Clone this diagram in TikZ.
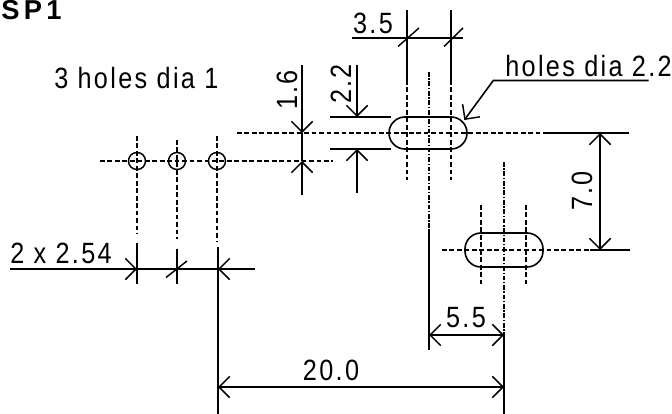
\documentclass[tikz,border=0pt]{standalone}
\usepackage{fontspec}
\setmainfont{Liberation Sans}
\usetikzlibrary{arrows.meta}
\newfontfamily\dimfont[LetterSpace=8,FakeStretch=0.86]{Liberation Sans}
\newfontfamily\titlefont[LetterSpace=16]{Liberation Sans Bold}
\tikzset{
  solidln/.style={line width=1.2pt,black},
  thinln/.style={line width=1.1pt,black},
  dashln/.style={line width=1.1pt,black,dash pattern=on 3.6pt off 2pt},
  dashdot/.style={line width=1pt,black,dash pattern=on 3.5pt off 1.3pt on 1pt off 1.3pt},
  tipb/.style={-{Straight Barb[length=8pt,width=16pt,line width=1.1pt]}},
  tipbb/.style={{Straight Barb[length=8pt,width=16pt,line width=1.1pt]}-{Straight Barb[length=8pt,width=16pt,line width=1.1pt]}},
  txt/.style={inner sep=0pt,font=\dimfont\fontsize{22}{22}\selectfont},
  outline/.style={line width=1.2pt,black,rounded corners=12pt},
  hole/.style={draw,circle,line width=1.1pt,minimum size=12.8pt,inner sep=0pt}
}
\begin{document}
\begin{tikzpicture}[x=0.75pt,y=-0.75pt]
\useasboundingbox (0,0) rectangle (672,414);
% text
\node[inner sep=0pt,font=\titlefont\fontsize{20.5}{21}\selectfont,anchor=base west] (title) at (1,20) {SP1};
\node[txt,anchor=base west] (t1) at (54,89) {3 holes dia 1};
\node[txt,anchor=base west] (t2) at (505,76) {holes dia 2.2};
\node[txt,anchor=base] (t35) at (373,33) {3.5};
\node[txt,rotate=90,anchor=base] (t16) at (297,90) {1.6};
\node[txt,rotate=90,anchor=base] (t22) at (351,84) {2.2};
\node[txt,rotate=90,anchor=base] (t70) at (592,191) {7.0};
\node[txt,anchor=base west] (t254) at (10,263) {2 x 2.54};
\node[txt,anchor=base] (t20) at (331,380) {20.0};
\node[txt,anchor=base] (t55) at (466,327) {5.5};
% holes
\node[hole] (h1) at (137,161) {};
\node[hole] (h2) at (177,161) {};
\node[hole] (h3) at (217,161) {};
% slots
\draw[outline] (389,117) rectangle (467,149);
\draw[outline] (465,233) rectangle (543,267);
% dashed
\draw[dashln] (100,161) -- (333,161);
\draw[dashln] (237,133) -- (547,133);
\draw[dashln] (442,250) -- (590,250);
\draw[dashln] (137,136) -- (137,234);
\draw[dashln] (177,140) -- (177,239);
\draw[dashln] (217,136) -- (217,241);
\draw[dashln] (407,80) -- (407,180);
\draw[dashln] (451,80) -- (451,180);
\draw[dashln] (481,205) -- (481,285);
\draw[dashln] (526,205) -- (526,287);
\draw[dashdot] (429,72) -- (429,229);
\draw[dashdot] (504,162) -- (504,335);
% extension lines
\draw[solidln] (547,133) -- (629,133);
\draw[solidln] (590,250) -- (630,250);
\draw[solidln] (330,117) -- (391,117);
\draw[solidln] (330,149) -- (391,149);
\draw[solidln] (407,10) -- (407,80);
\draw[solidln] (451,10) -- (451,80);
\draw[solidln] (429,229) -- (429,350);
\draw[solidln] (504,335) -- (504,414);
\draw[solidln] (137,243) -- (137,284);
\draw[solidln] (177,249) -- (177,284);
\draw[solidln] (218,247) -- (218,414);
% dimension lines
\draw[thinln] (352,38) -- (463,38);
\draw[thinln] (398,46.5) -- (419,28);
\draw[thinln] (444,46.5) -- (463,28);
\draw[solidln,tipb] (302,65) -- (302,133);
\draw[solidln,tipb] (302,195) -- (302,161);
\draw[solidln] (302,133) -- (302,161);
\draw[solidln,tipb] (357,65) -- (357,117);
\draw[solidln,tipb] (357,193) -- (357,149);
\draw[solidln,tipbb] (600,133) -- (600,250);
\draw[solidln,tipb] (10,269) -- (137,269);
\draw[solidln] (137,269) -- (218,269);
\draw[solidln,tipb] (255,269) -- (218,269);
\draw[thinln] (166,277.5) -- (187,261);
\draw[solidln,tipbb] (218,387) -- (504,387);
\draw[solidln,tipbb] (429,335) -- (504,335);
% leader
\draw[solidln,tipb] (648.7,80.5) -- (493.3,80.5) -- (464.3,120);
\end{tikzpicture}
\end{document}
